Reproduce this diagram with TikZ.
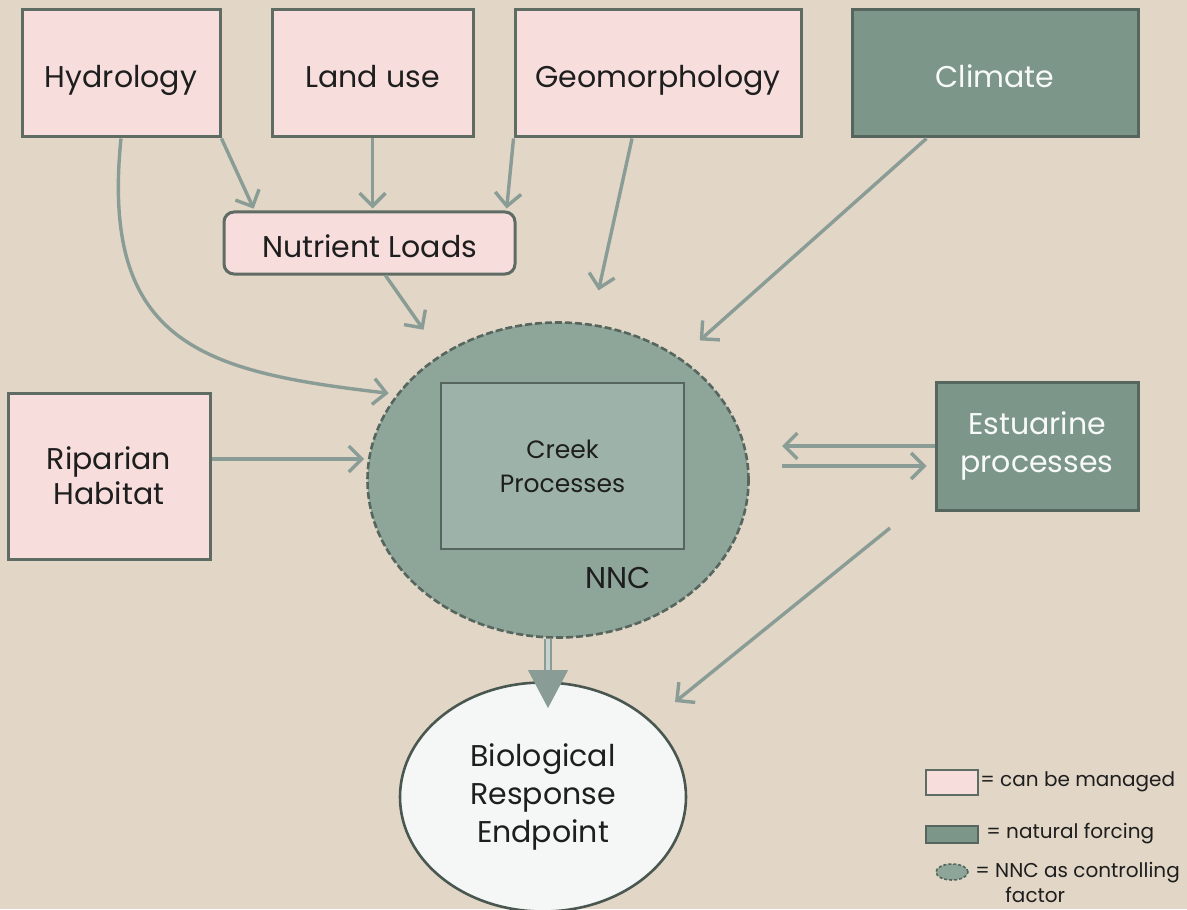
\documentclass[tikz,border=0pt]{standalone}
\usepackage{fontspec}
\setmainfont{Poppins}
\usepackage{tikz}
\usetikzlibrary{arrows.meta}
\usetikzlibrary{shapes.geometric}
\usetikzlibrary{positioning}
\definecolor{bgtan}{HTML}{E2D6C6}
\definecolor{pinkfill}{HTML}{F7DEDD}
\definecolor{boxedge}{HTML}{5E6C64}
\definecolor{darkfill}{HTML}{7C968A}
\definecolor{darkedge}{HTML}{56665E}
\definecolor{nncfill}{HTML}{8EA59A}
\definecolor{creekfill}{HTML}{9DB2A8}
\definecolor{arrowc}{HTML}{8A9C96}
\definecolor{biofill}{HTML}{F4F7F6}
\definecolor{inkc}{HTML}{1E1E1E}

\begin{document}
\begin{tikzpicture}
          [x=0.5pt, y=0.5pt,
           every node/.style={inner sep=0pt, align=center, text=inkc},
           managed/.style={draw=boxedge, fill=pinkfill, line width=1.5pt, font=\fontsize{15}{17.5}\selectfont},
           forcing/.style={draw=darkedge, fill=darkfill, line width=1.5pt, text=white!95!darkfill, font=\fontsize{15}{19}\selectfont},
           oneline/.style={text height=14pt, text depth=0pt},
           flow/.style={draw=arrowc, line width=1.7pt, -{Straight Barb[length=6.5pt, width=13pt]}}]
          \fill[bgtan] (0,0) rectangle (1187,-909);
          \useasboundingbox (0,0) rectangle (1187,-909);

          % drivers along the top
          \node (hyd) [managed, oneline, minimum width=99pt, minimum height=63.5pt] at (121,-73.5) {Hydrology};
          \node (lu) [managed, oneline, minimum width=100.5pt, minimum height=63.5pt] at (372.5,-73.5) {Land use};
          \node (geo) [managed, oneline, minimum width=143pt, minimum height=63.5pt] at (658,-73.5) {Geomorphology};
          \node (clim) [forcing, oneline, minimum width=143pt, minimum height=63.5pt] at (995,-73.5) {Climate};
          \node (nl) [managed, oneline, rounded corners=5pt, minimum width=145.5pt, minimum height=31pt] at (369.5,-243) {Nutrient Loads};

          % centre
          \node (nnc) [ellipse, draw=darkedge, fill=nncfill, line width=1.3pt, dash pattern=on 3.5pt off 1.5pt, minimum width=190.5pt, minimum height=157.5pt] at (558,-480) {};
          \node (creek) [draw=darkedge, fill=creekfill, line width=1.3pt, minimum width=121.5pt, minimum height=83pt, font=\fontsize{12.5}{17}\selectfont] at (562.5,-466) {Creek\\Processes};
          \node (nnclab) [font=\fontsize{15}{18}\selectfont] at (618,-578) {NNC};

          \node (rip) [managed, minimum width=101pt, minimum height=83pt] at (109,-476) {Riparian\\Habitat};
          \node (est) [forcing, minimum width=101pt, minimum height=64pt] at (1037,-446) {Estuarine\\processes};
          \node (bio) [ellipse, draw=darkedge!85!black, fill=biofill, line width=1.3pt, minimum width=143pt, minimum height=114.5pt, font=\fontsize{15}{19}\selectfont] at (543,-797) {Biological\\Response\\Endpoint};

          \coordinate (estl) at (782,0);
          \coordinate (estout) at (890,-528);
          \coordinate (dtip) at (548,-708);

          % connectors
          \draw[flow, shorten >= 1pt] (hyd.south east) -- ([xshift=16pt]nl.north west);
          \draw[flow, shorten >= 1pt] (lu.south) -- (lu.south |- nl.north);
          \draw[flow, shorten >= 1pt] (geo.south west) -- ([xshift=-5pt]nl.north east);
          \draw[flow, shorten >= 17pt] ([xshift=-13pt]geo.south) -- (nnc.78);
          \draw[flow, shorten >= 15pt] ([xshift=8pt]nl.south) -- (nnc.133);
          \draw[flow, shorten >= 13pt] ([xshift=38pt]clim.south west) -- (nnc.45);
          \draw[flow, shorten >= 4pt] (hyd.south) .. controls (100,-345) and (205,-372) .. (nnc.152);
          \draw[flow, shorten >= 1pt] ([yshift=8.5pt]rip.east) -- ([yshift=8.5pt]rip.east -| nnc.west);
          \draw[flow] (est.west) -- (est.west -| estl);
          \draw[flow, shorten >= 4pt] ([yshift=-10pt]est.west -| estl) -- ([yshift=-10pt]est.west);
          \draw[flow, shorten >= 15pt] (estout) -- (bio.35);

          % double arrow down to the endpoint
          \draw[arrowc, line width=1.1pt, double=white!55!arrowc, double distance=2pt] ([xshift=-5pt]nnc.south) -- ([yshift=17pt]dtip);
          \draw[arrowc, line width=0.5pt, shorten <= 17pt, -{Triangle[width=20pt, length=19pt]}] ([yshift=19pt]dtip) -- (dtip);

          % legend
          \node (kman) [draw=boxedge, fill=pinkfill, line width=1.2pt, minimum width=26pt, minimum height=12.5pt] at (952,-782.5) {};
          \node (kmantxt) [anchor=west, font=\fontsize{10}{12}\selectfont] at (980,-782) {= can be managed};
          \node (knat) [draw=darkedge, fill=darkfill, line width=1.2pt, minimum width=26pt, minimum height=8.5pt] at (952,-834.5) {};
          \node (knattxt) [anchor=west, font=\fontsize{10}{12}\selectfont] at (986,-834) {= natural forcing};
          \node (knnc) [ellipse, draw=darkedge, fill=nncfill, dash pattern=on 1.5pt off 1pt, line width=0.8pt, minimum width=16pt, minimum height=8pt] at (952,-872) {};
          \node (knnctxt) [anchor=north west, align=left, font=\fontsize{10}{12.5}\selectfont] at (975,-862) {= NNC as controlling\\\hspace*{15pt}factor};

        \end{tikzpicture}
\end{document}
